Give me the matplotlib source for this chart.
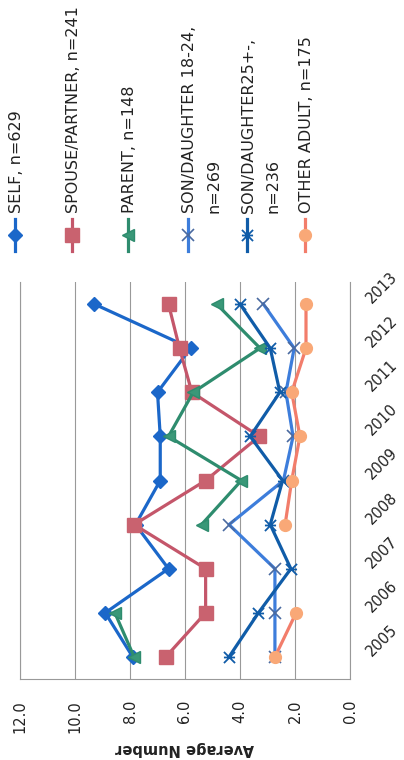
import numpy as np
import matplotlib
matplotlib.use("Agg")
import matplotlib.pyplot as plt
from matplotlib.path import Path

years = [2005, 2006, 2007, 2008, 2009, 2010, 2011, 2012, 2013]
nan = np.nan
self_vals = [7.9, 8.9, 6.6, 7.8, 6.9, 6.9, 7.0, 5.8, 9.3]
spouse_vals = [6.7, 5.25, 5.25, 7.85, 5.25, 3.3, 5.75, 6.2, 6.6]
parent_vals = [7.85, 8.55, nan, 5.4, 3.95, 6.6, 5.7, 3.27, 4.85]
son1824_vals = [2.73, 2.73, 2.73, 4.4, 2.42, 2.07, 2.33, 2.03, 3.15]
son25_vals = [4.4, 3.33, 2.15, 2.9, 2.45, 3.63, 2.55, 2.9, 4.0]
other_vals = [2.73, 1.96, nan, 2.36, 2.12, 1.82, 2.12, 1.6, 1.6]

labels = ["SELF, n=629", "SPOUSE/PARTNER, n=241", "PARENT, n=148",
          "SON/DAUGHTER 18-24,\nn=269", "SON/DAUGHTER25+-,\nn=236",
          "OTHER ADULT, n=175"]
value_ticks = [0, 2, 4, 6, 8, 10, 12]

# x with a bar through it (excel "star" marker, turned with the chart)
star = Path([(-1, -1), (1, 1), (-1, 1), (1, -1), (-1, 0), (1, 0)],
            [Path.MOVETO, Path.LINETO, Path.MOVETO, Path.LINETO,
             Path.MOVETO, Path.LINETO])

series = [
    (self_vals, dict(color='#1b67c9', marker='D', ms=7.5, mfc='#1b67c9', mec='#1b67c9')),
    (spouse_vals, dict(color='#c4566a', marker='s', ms=10, mfc='#c9626f', mec='#c9626f')),
    (parent_vals, dict(color='#2e8c6e', marker='<', ms=8, mfc='#3a9878', mec='#2e8c6e')),
    (son1824_vals, dict(color='#3d7ddb', marker='x', ms=8, mew=1.2, mec='#4a6aa0')),
    (son25_vals, dict(color='#105ca8', marker=star, ms=8, mew=1.3, mec='#105ca8')),
    (other_vals, dict(color='#f27d6b', marker='o', ms=8.5, mfc='#f9a877', mec='#f9a877')),
]

fig = plt.figure(figsize=(4.04, 7.6), dpi=100)
ax = fig.add_axes([20/404, 1 - 679/760, 330/404, 397/760])

for vals, st in series:
    ax.plot(vals, years, lw=2.3, **st)

ax.set_xlim(12, 0)
ax.set_ylim(2004.5, 2013.5)
ax.set_xticks(value_ticks)
ax.set_xticklabels(['%.1f' % v for v in value_ticks], rotation=90,
                   fontsize=10.5, color='#222222')
ax.tick_params(axis='x', length=0, pad=15)
ax.grid(axis='x', color='#999999', lw=0.8)
ax.set_axisbelow(True)

ax.set_yticks(years)
ax.yaxis.tick_right()
ax.tick_params(axis='y', length=0, pad=15.5, labelsize=10.5, labelcolor='#222222')
for t in ax.get_yticklabels():
    t.set_rotation(45)
    t.set_rotation_mode('anchor')
    t.set_ha('left')
    t.set_va('baseline')

for s in ['left', 'right', 'bottom']:
    ax.spines[s].set_color('#999999')
    ax.spines[s].set_linewidth(0.8)
ax.spines['top'].set_visible(False)

ax.set_xlabel('Average Number', rotation=180, fontsize=10.5,
              fontweight='bold', color='#222222', labelpad=6)

# legend, turned like the rest of the chart
lax = fig.add_axes([0, 0, 1, 1])
lax.set_xlim(0, 404)
lax.set_ylim(760, 0)
lax.axis('off')
leg_x = [15, 72, 128, 188, 247, 305]
for (vals, st), lab, hx in zip(series, labels, leg_x):
    lax.plot([hx, hx, hx], [219, 235, 251], lw=2.3, markevery=[1], **st)
    lax.text(hx - 6, 213, lab, rotation=90, rotation_mode='anchor',
             ha='left', va='top', fontsize=11.5, linespacing=1.8,
             color='#222222')

fig.savefig('out.png', dpi=100)
